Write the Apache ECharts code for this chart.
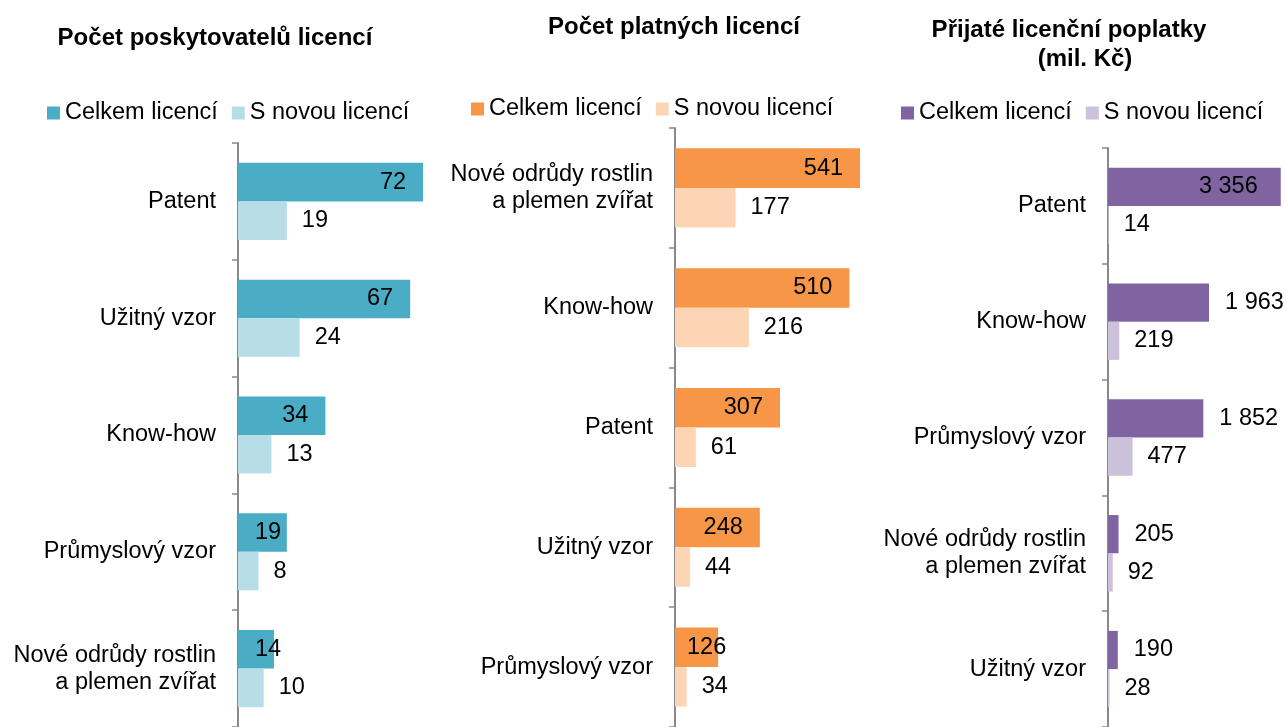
<!DOCTYPE html>
<html>
<head>
<meta charset="utf-8">
<script src="https://cdn.jsdelivr.net/npm/echarts@6/dist/echarts.min.js"></script>
<style>
  html, body { margin: 0; padding: 0; background: #fff; }
  #chart { width: 1287px; height: 727px; }
</style>
</head>
<body>
<div id="chart"></div>
<script>
// data
const legendNames = ['Celkem licencí', 'S novou licencí'];

const cats1 = ['Patent', 'Užitný vzor', 'Know-how', 'Průmyslový vzor', 'Nové odrůdy rostlin\na plemen zvířat'];
const total1 = [72, 67, 34, 19, 14];
const new1 = [19, 24, 13, 8, 10];

const cats2 = ['Nové odrůdy rostlin\na plemen zvířat', 'Know-how', 'Patent', 'Užitný vzor', 'Průmyslový vzor'];
const total2 = [541, 510, 307, 248, 126];
const new2 = [177, 216, 61, 44, 34];

const cats3 = ['Patent', 'Know-how', 'Průmyslový vzor', 'Nové odrůdy rostlin\na plemen zvířat', 'Užitný vzor'];
const total3 = [3356, 1963, 1852, 205, 190];
const new3 = [14, 219, 477, 92, 28];

const font = "'Liberation Sans', Arial, sans-serif";
const fs = 23.5;

// layout of the three panels
const panels = [
  { cats: cats1, total: total1, fresh: new1, left: 238, top: 143, height: 591, width: 205.6, max: 80,
    colors: ['#4BACC6', '#B7DEE8'], legendLeft: 47, legendTop: 101, outside: false, smallDist: 17 },
  { cats: cats2, total: total2, fresh: new2, left: 675, top: 128, height: 600, width: 205.2, max: 600,
    colors: ['#F79646', '#FCD5B5'], legendLeft: 471, legendTop: 97, outside: false, smallDist: 12 },
  { cats: cats3, total: total3, fresh: new3, left: 1108, top: 148, height: 586, width: 175, max: 3400,
    colors: ['#8064A2', '#CCC1DA'], legendLeft: 901, legendTop: 101, outside: true, smallDist: 16 }
];

function fmt(v) {
  return String(v).replace(/\B(?=(\d{3})+(?!\d))/g, ' ');
}

// rough label width in px
function labelWidth(v) {
  return fmt(v).length * fs * 0.556;
}

const grid = [], xAxis = [], yAxis = [], series = [], legend = [];

panels.forEach((p, i) => {
  const scale = p.width / p.max;
  grid.push({ left: p.left, top: p.top, width: p.width, height: p.height, containLabel: false });
  xAxis.push({ gridIndex: i, type: 'value', min: 0, max: p.max, show: false, splitLine: { show: false } });
  yAxis.push({
    gridIndex: i, type: 'category', data: p.cats, inverse: true,
    axisLine: { show: true, lineStyle: { color: '#898989', width: 2 } },
    axisTick: { show: true, length: 6, lineStyle: { color: '#898989', width: 1.5 } },
    axisLabel: { color: '#000', fontSize: fs, fontFamily: font, margin: 22, lineHeight: 27, padding: [4, 0, 0, 0] }
  });

  const n1 = legendNames[0] + '|' + i;
  const n2 = legendNames[1] + '|' + i;

  const totalData = p.total.map((v, k) => {
    let label;
    if (p.outside) {
      label = (k === 0) ? { position: 'insideRight', distance: 23 } : { position: 'right', distance: 16 };
    } else {
      const px = v * scale;
      label = (px < labelWidth(v) + 34) ? { position: 'insideLeft', distance: p.smallDist }
                                        : { position: 'insideRight', distance: 17 };
    }
    return { value: v, label: label };
  });

  series.push({
    name: n1, type: 'bar', xAxisIndex: i, yAxisIndex: i, data: totalData,
    barGap: '0%', barCategoryGap: '34%',
    itemStyle: { color: p.colors[0] },
    label: { show: true, color: '#000', fontSize: fs, fontFamily: font, formatter: d => fmt(d.value) },
    silent: true
  });
  series.push({
    name: n2, type: 'bar', xAxisIndex: i, yAxisIndex: i, data: p.fresh,
    barGap: '0%', barCategoryGap: '34%',
    itemStyle: { color: p.colors[1] },
    label: { show: true, position: 'right', distance: 15, color: '#000', fontSize: fs, fontFamily: font,
             formatter: d => fmt(d.value) },
    silent: true
  });

  legend.push({
    data: [n1, n2], left: p.legendLeft, top: p.legendTop, padding: 0,
    itemWidth: 13, itemHeight: 13, itemGap: 14, icon: 'rect', selectedMode: false,
    formatter: name => name.split('|')[0],
    textStyle: { color: '#000', fontSize: fs, fontFamily: font }
  });
});

const titleStyle = { color: '#000', fontSize: 24, fontWeight: 'bold', fontFamily: font };
const title = [
  { text: 'Počet poskytovatelů licencí', left: 215, top: 26, padding: 0, textAlign: 'center', textStyle: titleStyle },
  { text: 'Počet platných licencí', left: 674, top: 15, padding: 0, textAlign: 'center', textStyle: titleStyle },
  { text: 'Přijaté licenční poplatky', left: 1069, top: 18, padding: 0, textAlign: 'center', textStyle: titleStyle },
  { text: '(mil. Kč)', left: 1085, top: 47, padding: 0, textAlign: 'center', textStyle: titleStyle }
];

const chart = echarts.init(document.getElementById('chart'));
chart.setOption({
  animation: false,
  backgroundColor: '#fff',
  title: title,
  legend: legend,
  grid: grid,
  xAxis: xAxis,
  yAxis: yAxis,
  series: series
});
</script>
</body>
</html>
